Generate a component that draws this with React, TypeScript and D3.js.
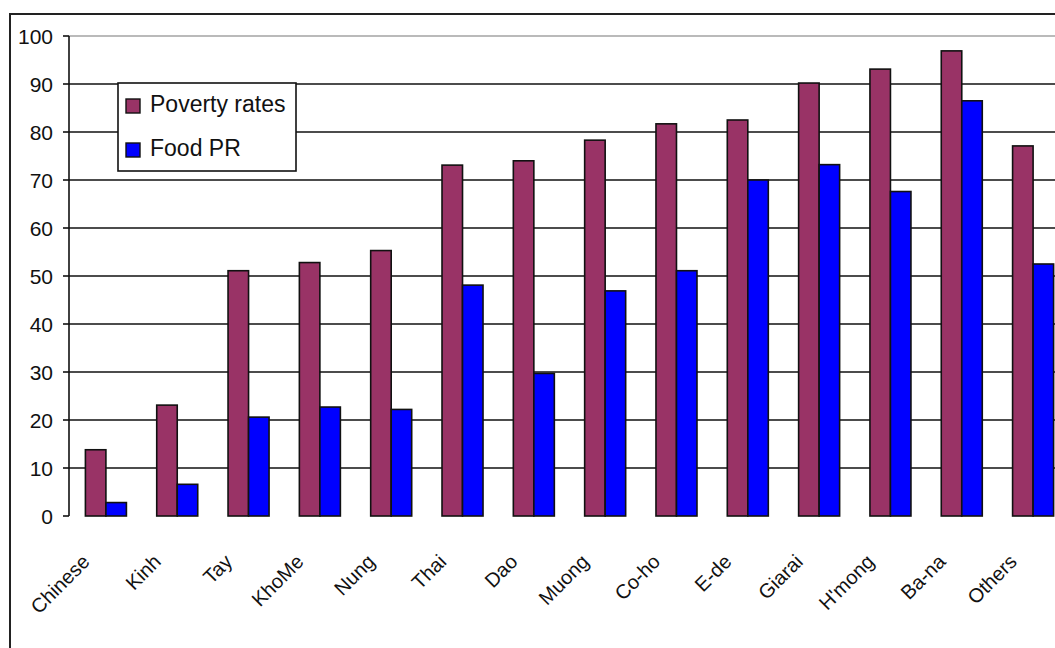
import React from "react";
import * as d3 from "d3";

const categories = [
  "Chinese", "Kinh", "Tay", "KhoMe", "Nung", "Thai", "Dao",
  "Muong", "Co-ho", "E-de", "Giarai", "H'mong", "Ba-na", "Others",
];
const povertyRates = [13.8, 23.1, 51.1, 52.8, 55.3, 73.1, 74.0, 78.3, 81.7, 82.5, 90.2, 93.1, 96.9, 77.1];
const foodPR = [2.8, 6.6, 20.6, 22.7, 22.2, 48.1, 29.7, 46.9, 51.1, 70.0, 73.2, 67.6, 86.5, 52.5];
const yTicks = [0, 10, 20, 30, 40, 50, 60, 70, 80, 90, 100];
const seriesNames = ["Poverty rates", "Food PR"];

const W = 1055;
const H = 648;
const MAROON = "#993366";
const BLUE = "#0000ff";
const FONT = "Arial, 'Liberation Sans', sans-serif";

export default function App() {
  const x = d3
    .scaleBand<string>()
    .domain(categories)
    .range([69, 1070])
    .paddingInner(0.425)
    .paddingOuter(0.23);
  const y = d3.scaleLinear().domain([0, 100]).range([516, 36]);
  const bw = x.bandwidth() / 2;

  return (
    <svg
      width={W}
      height={H}
      style={{ position: "absolute", left: 0, top: 0, background: "#fff" }}
      fontFamily={FONT}
    >
      {/* outer chart frame */}
      <rect x={10} y={14} width={1200} height={800} fill="#fff" stroke="#222" strokeWidth={2} />

      {/* horizontal gridlines */}
      {yTicks.filter((t) => t > 0).map((t) => (
        <line
          key={t}
          x1={69}
          x2={W + 20}
          y1={y(t)}
          y2={y(t)}
          stroke={t === 100 ? "#777" : "#111"}
          strokeWidth={t === 100 ? 1.2 : 1.6}
        />
      ))}

      {/* y axis */}
      <line x1={69} x2={69} y1={y(100)} y2={y(0)} stroke="#111" strokeWidth={1.6} />
      {yTicks.map((t) => (
        <g key={t}>
          <line x1={63} x2={69} y1={y(t)} y2={y(t)} stroke="#111" strokeWidth={1.6} />
          <text
            x={53}
            y={y(t)}
            dy="0.36em"
            textAnchor="end"
            fontSize={21}
            fill="#111"
          >
            {t}
          </text>
        </g>
      ))}

      {/* bars */}
      {categories.map((c, i) => {
        const x0 = x(c)!;
        return (
          <g key={c}>
            <rect
              x={x0}
              y={y(povertyRates[i])}
              width={bw}
              height={y(0) - y(povertyRates[i])}
              fill={MAROON}
              stroke="#111"
              strokeWidth={1.6}
            />
            <rect
              x={x0 + bw}
              y={y(foodPR[i])}
              width={bw}
              height={y(0) - y(foodPR[i])}
              fill={BLUE}
              stroke="#111"
              strokeWidth={1.6}
            />
          </g>
        );
      })}

      {/* category labels */}
      {categories.map((c) => {
        const cx = x(c)! + x.bandwidth() / 2 - 15;
        const cy = 563;
        return (
          <text
            key={c}
            transform={`translate(${cx},${cy}) rotate(-45)`}
            textAnchor="end"
            fontSize={20}
            fill="#111"
          >
            {c}
          </text>
        );
      })}

      {/* legend */}
      <g>
        <rect x={118} y={83} width={178} height={88} fill="#fff" stroke="#111" strokeWidth={1.6} />
        {seriesNames.map((name, i) => (
          <g key={name} transform={`translate(126,${99 + i * 44})`}>
            <rect width={14} height={14} fill={i === 0 ? MAROON : BLUE} stroke="#111" strokeWidth={1.4} />
            <text x={24} y={5} dy="0.36em" fontSize={23} fill="#111">
              {name}
            </text>
          </g>
        ))}
      </g>
    </svg>
  );
}
